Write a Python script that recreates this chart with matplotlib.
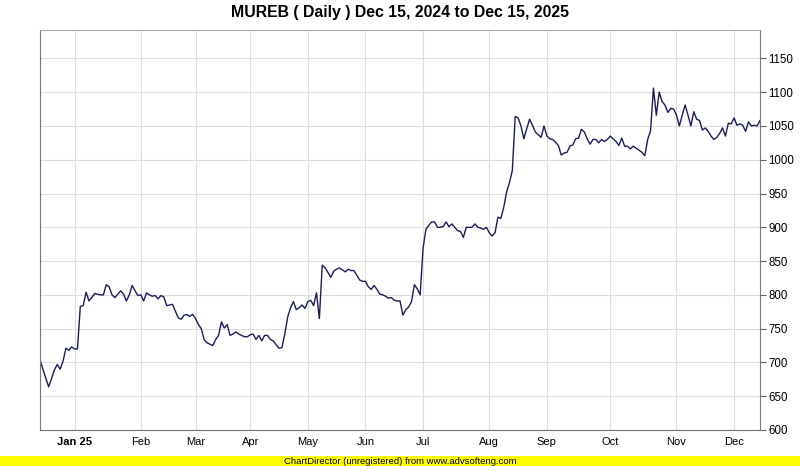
import numpy as np
import matplotlib.pyplot as plt

title = "MUREB ( Daily ) Dec 15, 2024 to Dec 15, 2025"
footer = "ChartDirector (unregistered) from www.advsofteng.com"

month_labels = ['Jan 25', 'Feb', 'Mar', 'Apr', 'May', 'Jun', 'Jul', 'Aug', 'Sep', 'Oct', 'Nov', 'Dec']
# trading days in each month, Dec 2024 part first and Dec 2025 part last
days_per_month = [12, 23, 19, 19, 20, 20, 20, 23, 20, 22, 23, 20, 10]

close = [
    704, 690, 677, 664, 676, 689, 697, 690, 702, 721,
    718, 723, 720, 720, 783, 784, 804, 791, 796, 802,
    801, 800, 800, 815, 812, 800, 796, 801, 806, 801,
    791, 800, 814, 806, 799, 800, 791, 803, 800, 798,
    799, 794, 799, 797, 784, 785, 786, 776, 766, 764,
    770, 771, 768, 771, 765, 756, 750, 734, 729, 727,
    725, 734, 740, 760, 751, 756, 740, 742, 745, 742,
    740, 738, 738, 741, 742, 734, 740, 732, 740, 740,
    734, 732, 726, 721, 722, 742, 767, 781, 790, 778,
    781, 785, 780, 790, 792, 784, 803, 765, 844, 840,
    833, 826, 835, 838, 840, 837, 834, 838, 836, 836,
    829, 822, 820, 820, 812, 808, 814, 808, 801, 800,
    798, 795, 796, 792, 791, 791, 770, 778, 782, 790,
    815, 809, 800, 869, 897, 903, 908, 908, 900, 900,
    901, 908, 901, 905, 900, 895, 894, 885, 900, 900,
    900, 905, 900, 899, 897, 900, 892, 887, 892, 915,
    913, 929, 952, 966, 984, 1064, 1062, 1050, 1031, 1046,
    1060, 1051, 1041, 1037, 1033, 1050, 1035, 1031, 1030, 1026,
    1021, 1007, 1010, 1011, 1020, 1022, 1031, 1032, 1045, 1041,
    1031, 1023, 1030, 1030, 1025, 1030, 1027, 1030, 1035, 1031,
    1027, 1021, 1032, 1020, 1020, 1016, 1020, 1017, 1014, 1011,
    1006, 1030, 1043, 1106, 1066, 1100, 1086, 1081, 1070, 1076,
    1075, 1066, 1050, 1066, 1081, 1066, 1050, 1071, 1060, 1058,
    1044, 1047, 1042, 1035, 1030, 1033, 1039, 1047, 1035, 1054,
    1053, 1062, 1051, 1053, 1051, 1042, 1056, 1050, 1051, 1050,
    1058,
]

y_ticks = list(range(600, 1151, 50))

plt.rcParams['font.family'] = ['Liberation Sans', 'DejaVu Sans']

W, H = 800, 466
fig = plt.figure(figsize=(W / 100, H / 100), dpi=100)
ax = fig.add_axes([40 / W, (H - 430) / H, 720 / W, 400 / H])

x = np.arange(len(close))
ax.plot(x, close, color='#1c1c5c', lw=1.0)

ax.set_xlim(0, len(close) - 1)
ax.set_ylim(600, 1192)

month_pos = np.cumsum(days_per_month)[:-1]
ax.set_xticks(month_pos)
ax.set_xticklabels(month_labels, fontsize=8)
ax.get_xticklabels()[0].set_fontweight('bold')
ax.tick_params(axis='x', length=0, pad=5, colors='black')

ax.yaxis.tick_right()
ax.set_yticks(y_ticks)
ax.set_yticklabels([str(v) for v in y_ticks], fontsize=8.3)
ax.tick_params(axis='y', length=4, width=0.8, color='#666666', pad=2)

ax.grid(True, color='#dddddd', lw=0.8)
ax.set_axisbelow(True)
for side, sp in ax.spines.items():
    sp.set_color('#aaaaaa' if side == 'top' else '#777777')
    sp.set_linewidth(0.8)

fig.text(0.5, 1 - 13 / H, title, ha='center', va='center', fontsize=11.4,
         fontweight='bold')

fig.patches.append(plt.Rectangle((0, 0), 1, 10 / H, transform=fig.transFigure,
                                 facecolor='#ffff00', edgecolor='none'))
fig.text(0.5, 5 / H, footer, ha='center', va='center', fontsize=6.8)

fig.savefig('out.png', dpi=100)
